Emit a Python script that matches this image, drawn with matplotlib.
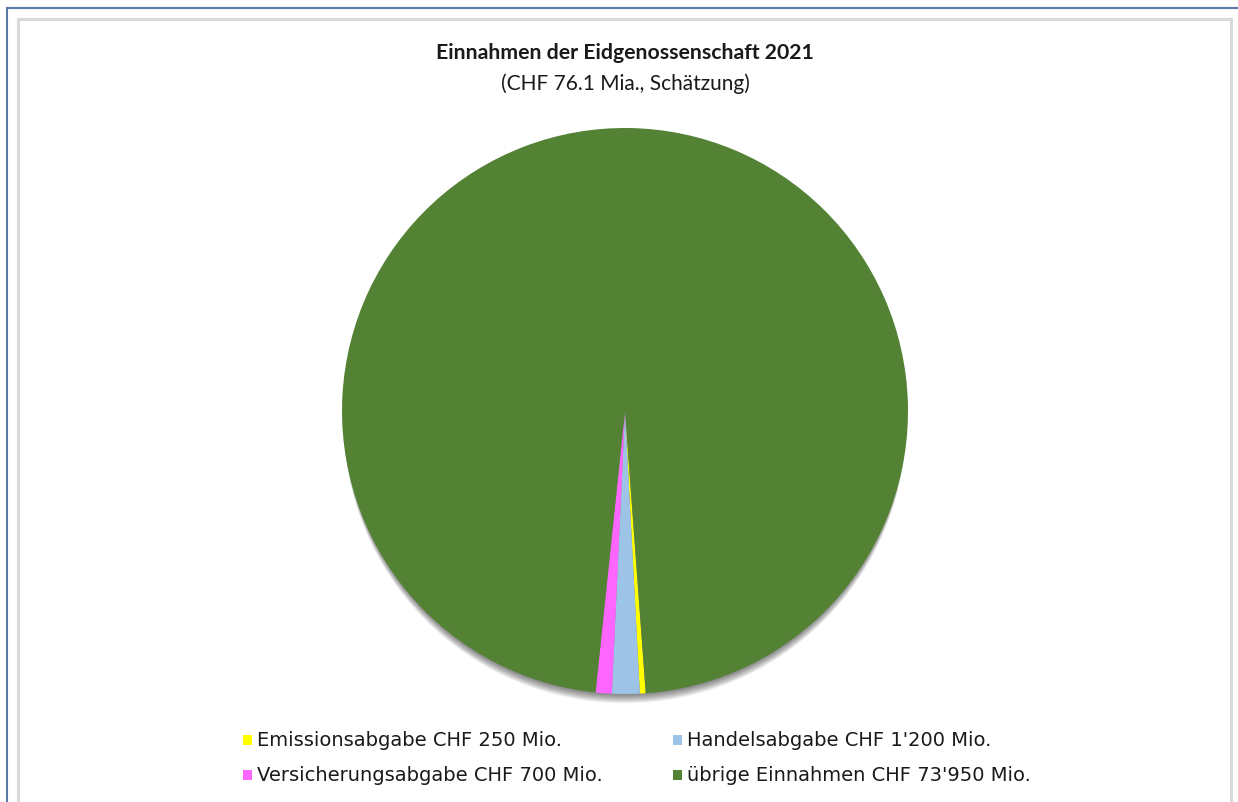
import matplotlib
matplotlib.use("Agg")
import matplotlib.pyplot as plt
from matplotlib.patches import Rectangle, Circle
import matplotlib.font_manager as fm

categories = ["Emissionsabgabe", "Handelsabgabe", "Versicherungsabgabe", "übrige Einnahmen"]
values = [250, 1200, 700, 73950]
value_labels = ["250", "1'200", "700", "73'950"]
colors = ["#FFFF00", "#9DC3E6", "#FF66FF", "#548235"]
title = "Einnahmen der Eidgenossenschaft 2021"
subtitle = "(CHF 76.1 Mia., Schätzung)"

W, H = 1238, 803
fig = plt.figure(figsize=(W / 100, H / 100), dpi=100)

names = {f.name for f in fm.fontManager.ttflist}
legend_font = "Liberation Sans Narrow" if "Liberation Sans Narrow" in names else "DejaVu Sans"
title_font = "Lato" if "Lato" in names else "DejaVu Sans"

# borders
fig.add_artist(Rectangle((7 / W, -0.1), 1.2, (H - 9) / H + 0.1, transform=fig.transFigure,
                         fill=False, edgecolor="#5B7BA6", linewidth=1.5))
fig.add_artist(Rectangle((18 / W, -0.1), (1231 - 18) / W, (H - 20) / H + 0.1, transform=fig.transFigure,
                         fill=False, edgecolor="#D9D9D9", linewidth=2.2))

cx, cy, r = 625, 412, 283
ax = fig.add_axes([(cx - r) / W, (H - cy - r) / H, 2 * r / W, 2 * r / H])
ax.set_aspect("equal")
ax.axis("off")

# soft shadow (mostly below the pie)
for i in range(12):
    ax.add_patch(Circle((0, -0.006 - i * 0.003), 0.994, facecolor="black",
                        alpha=0.05, edgecolor="none", zorder=0, clip_on=False))

ax.pie(values, colors=colors, startangle=-85.8, counterclock=False, radius=1.0,
       wedgeprops=dict(linewidth=0, edgecolor="none"))
ax.set_xlim(-1, 1)
ax.set_ylim(-1, 1)

fig.text(625 / W, 1 - 53 / H, title, ha="center", va="center", fontsize=15.3,
         fontweight="bold", family=title_font, color="#1a1a1a")
fig.text(625 / W, 1 - 84 / H, subtitle, ha="center", va="center", fontsize=15,
         family=title_font, color="#1a1a1a")

# legend (2 columns)
positions = [(243, 741), (673, 741), (243, 776), (673, 776)]
for (x, y), cat, val, col in zip(positions, categories, value_labels, colors):
    fig.add_artist(Rectangle((x / W, 1 - (y + 5) / H), 9 / W, 10 / H, transform=fig.transFigure,
                             facecolor=col, edgecolor="none"))
    fig.text((x + 14) / W, 1 - y / H, f"{cat} CHF {val} Mio.", ha="left", va="center",
             fontsize=14, family=legend_font, color="#1a1a1a")

fig.savefig("out.png", dpi=100)
